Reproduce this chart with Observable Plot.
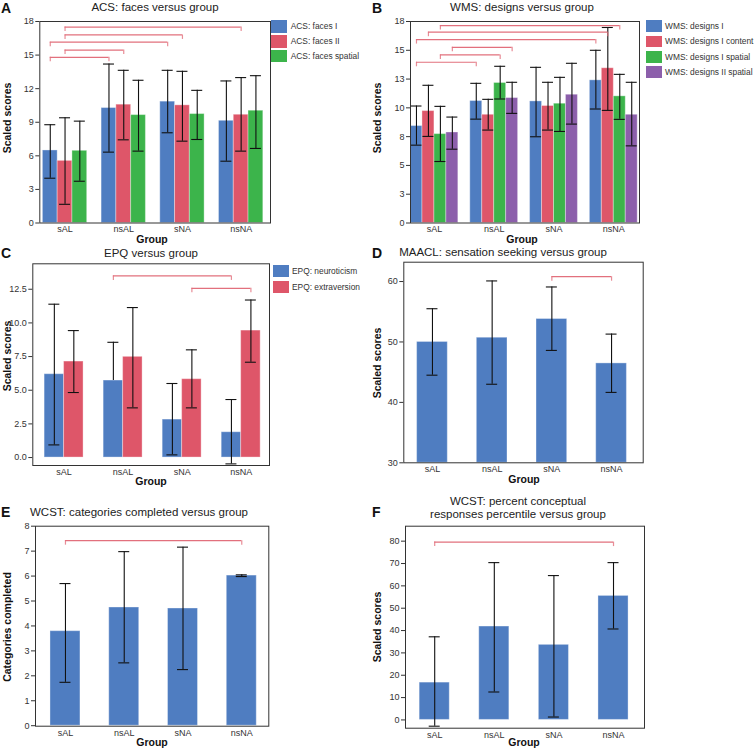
<!DOCTYPE html>
<html><head><meta charset="utf-8">
<script src="https://cdn.jsdelivr.net/npm/d3@7"></script>
<script src="https://cdn.jsdelivr.net/npm/@observablehq/plot@0.6"></script>
<style>
body{margin:0;background:#fff;}
#root{position:relative;width:754px;height:748px;font-family:"Liberation Sans",Arial,sans-serif;color:#222;overflow:hidden;}
.abs{position:absolute;white-space:nowrap;}
.panel{position:absolute;}
.letter{font-weight:bold;font-size:14px;color:#111;}
.title{font-size:11.5px;transform:translate(-50%,-50%);text-align:center;line-height:13px;color:#222;}
.ylab{font-weight:bold;font-size:10.5px;transform:translate(-50%,-50%) rotate(-90deg);color:#111;}
.xlab{font-weight:bold;font-size:10.5px;transform:translate(-50%,-50%);color:#111;}
.leg{font-size:8.4px;color:#333;transform:translateY(-50%);}
.sw{position:absolute;}
</style></head>
<body><div id="root"></div>
<script>
const groups = ["sAL", "nsAL", "sNA", "nsNA"];

// A: ACS faces
const acsSeries = ["ACS: faces I", "ACS: faces II", "ACS: faces spatial"];
const acsMean = [[6.48, 10.27, 10.84, 9.13], [5.55, 10.57, 10.51, 9.67], [6.45, 9.64, 9.73, 10.03]];
const acsLow = [[4.0, 6.33, 8.06, 5.52], [1.67, 7.43, 7.31, 6.42], [3.73, 6.42, 7.46, 6.66]];
const acsHigh = [[8.78, 14.2, 13.64, 12.69], [9.40, 13.64, 13.55, 12.99], [9.10, 12.75, 11.85, 13.16]];
const acsBrackets = [[0, 0, 1, 0, 14.8], [0, 1, 1, 1, 15.45], [0, 0, 2, 0, 16.15], [0, 1, 2, 1, 16.8], [0, 1, 3, 1, 17.5]];
const acsTicks = [0, 3, 6, 9, 12, 15, 18];

// B: WMS designs
const wmsSeries = ["WMS: designs I", "WMS: designs I content", "WMS: designs I spatial", "WMS: designs II spatial"];
const wmsMean = [[8.42, 10.59, 10.56, 12.39], [9.72, 9.40, 10.16, 13.44], [7.72, 12.16, 10.36, 11.0], [7.86, 10.85, 11.14, 9.40]];
const wmsLow = [[6.76, 9.02, 7.49, 9.9], [7.52, 8.07, 8.07, 9.78], [5.34, 10.77, 7.95, 9.0], [6.41, 9.52, 8.59, 6.70]];
const wmsHigh = [[10.16, 12.13, 13.52, 15.0], [11.96, 10.74, 12.22, 16.98], [10.13, 13.61, 12.65, 12.91], [9.2, 12.22, 13.87, 12.22]];
const wmsBrackets = [[0, 0, 1, 0, 13.96], [0, 2, 1, 2, 14.6], [0, 3, 1, 3, 15.26], [0, 0, 3, 0, 15.93], [0, 1, 3, 1, 16.57], [0, 2, 3, 2, 17.15]];
const wmsTicks = [0, 2.5, 5, 7.5, 10, 12.5, 15, 17.5];

// C: EPQ
const epqSeries = ["EPQ: neuroticism", "EPQ: extraversion"];
const epqMean = [[6.19, 5.72, 2.82, 1.88], [7.13, 7.48, 5.82, 9.43]];
const epqLow = [[0.94, 5.72, 0.2, -0.47], [4.83, 3.69, 3.69, 7.08]];
const epqHigh = [[11.39, 8.56, 5.50, 4.31], [9.43, 11.14, 8.0, 11.7]];
const epqBrackets = [[1, 0, 3, 0, 13.49], [2, 1, 3, 1, 12.57]];
const epqTicks = [0, 2.5, 5, 7.5, 10, 12.5];

// D: MAACL sensation seeking
const maaclMean = [50.0, 50.7, 53.8, 46.45];
const maaclLow = [44.5, 43.0, 48.6, 41.65];
const maaclHigh = [55.5, 60.1, 59.1, 51.3];
const maaclBrackets = [[2, 0, 3, 0, 60.8]];
const maaclTicks = [30, 40, 50, 60];

// E: WCST categories completed
const catMean = [3.79, 4.74, 4.70, 6.02];
const catLow = [1.74, 2.52, 2.25, 5.98];
const catHigh = [5.70, 6.98, 7.16, 6.05];
const catBrackets = [[0, 0, 3, 0, 7.42]];
const catTicks = [0, 1, 2, 3, 4, 5, 6, 7, 8];

// F: WCST percent conceptual responses percentile
const pctMean = [16.7, 41.8, 33.6, 55.5];
const pctLow = [-2.8, 12.5, 1.3, 40.7];
const pctHigh = [37.2, 70.4, 64.6, 70.4];
const pctBrackets = [[0, 0, 3, 0, 79.6]];
const pctTicks = [0, 10, 20, 30, 40, 50, 60, 70, 80];

const COLORS = ["#4f7dc1", "#de5669", "#3cb44b", "#8c5fab"];
const BRACKET = "#e2707d";

const root = document.getElementById("root");

function addText(cls, x, y, txt) {
  const d = document.createElement("div");
  d.className = "abs " + cls;
  d.style.left = x + "px";
  d.style.top = y + "px";
  d.innerHTML = txt;
  root.appendChild(d);
}

function addLegend(series, x, tops, h, textX) {
  series.forEach((s, k) => {
    const sw = document.createElement("div");
    sw.className = "sw";
    sw.style.left = x + "px";
    sw.style.top = tops[k] + "px";
    sw.style.width = "16px";
    sw.style.height = h + "px";
    sw.style.background = COLORS[k];
    root.appendChild(sw);
    addText("leg", textX, tops[k] + h / 2, s);
  });
}

function drawPanel(p) {
  const [L, R, T, B] = p.frame;
  const [sx, sy, sw, sh] = p.box;
  const n = p.mean.length;
  const w = p.groupWidth;
  const half = w / n / 2;
  const cx = (g, k) => g - w / 2 + (k + 0.5) * w / n;
  const cap = 5.5 * (p.xDomain[1] - p.xDomain[0]) / (R - L);
  const drop = 4.5 * (p.yDomain[1] - p.yDomain[0]) / (B - T);
  const marks = [];
  for (let k = 0; k < n; k++) {
    const rows = groups.map((g, i) => ({i, v: p.mean[k][i]}));
    marks.push(Plot.rectY(rows, {
      x1: d => cx(d.i, k) - half, x2: d => cx(d.i, k) + half,
      y1: p.base, y2: "v", fill: COLORS[k],
      stroke: "#ffffff", strokeOpacity: 0.35, strokeWidth: 1
    }));
  }
  for (let k = 0; k < n; k++) {
    const rows = groups.map((g, i) => ({i, v: p.mean[k][i], lo: p.low[k][i], hi: p.high[k][i]}));
    marks.push(Plot.ruleX(rows, {x: d => cx(d.i, k), y1: "lo", y2: "hi", stroke: "#111", strokeWidth: 1.1}));
    marks.push(Plot.ruleY(rows, {y: "hi", x1: d => cx(d.i, k) - cap, x2: d => cx(d.i, k) + cap, stroke: "#111", strokeWidth: 1.1}));
    marks.push(Plot.ruleY(rows.filter(d => d.lo < d.v), {y: "lo", x1: d => cx(d.i, k) - cap, x2: d => cx(d.i, k) + cap, stroke: "#111", strokeWidth: 1.1}));
  }
  const br = p.brackets.map(([g1, s1, g2, s2, y]) => ({a: cx(g1, s1), b: cx(g2, s2), y}));
  marks.push(Plot.ruleY(br, {y: "y", x1: "a", x2: "b", stroke: BRACKET, strokeWidth: 1.2}));
  marks.push(Plot.ruleX(br, {x: "a", y1: "y", y2: d => d.y - drop, stroke: BRACKET, strokeWidth: 1.2, strokeOpacity: 0.8}));
  marks.push(Plot.ruleX(br, {x: "b", y1: "y", y2: d => d.y - drop, stroke: BRACKET, strokeWidth: 1.2, strokeOpacity: 0.8}));
  marks.push(Plot.axisY({ticks: p.yTicks, tickFormat: p.yFormat, tickSize: 4, tickPadding: 2, label: null, fontSize: 9}));
  marks.push(Plot.axisX({ticks: [0, 1, 2, 3], tickFormat: i => groups[i], tickSize: 0, tickPadding: 3, label: null, fontSize: 9}));
  marks.push(Plot.frame({stroke: "#333", strokeWidth: 1}));

  const svg = Plot.plot({
    width: sw, height: sh,
    marginLeft: L - sx, marginRight: sx + sw - R,
    marginTop: T - sy, marginBottom: sy + sh - B,
    x: {type: "linear", domain: p.xDomain},
    y: {type: "linear", domain: p.yDomain},
    style: {fontFamily: '"Liberation Sans", Arial, sans-serif', fontSize: "9px", color: "#333", background: "transparent", overflow: "visible"},
    marks
  });
  const wrap = document.createElement("div");
  wrap.className = "panel";
  wrap.style.left = sx + "px";
  wrap.style.top = sy + "px";
  wrap.appendChild(svg);
  root.appendChild(wrap);
}

drawPanel({box: [0, 0, 275, 250], frame: [39.3, 270, 21, 222.5], xDomain: [-0.43, 3.50], yDomain: [0, 18],
  groupWidth: 0.755, base: 0, mean: acsMean, low: acsLow, high: acsHigh, brackets: acsBrackets,
  yTicks: acsTicks, yFormat: d => String(d)});
drawPanel({box: [370, 0, 280, 250], frame: [410, 639, 21, 222.5], xDomain: [-0.40, 3.43], yDomain: [0, 17.5],
  groupWidth: 0.80, base: 0, mean: wmsMean, low: wmsLow, high: wmsHigh, brackets: wmsBrackets,
  yTicks: wmsTicks, yFormat: d => String(Math.round(d))});
drawPanel({box: [0, 250, 275, 240], frame: [32.3, 269, 263.3, 465], xDomain: [-0.53, 3.48], yDomain: [-0.59, 14.39],
  groupWidth: 0.66, base: 0, mean: epqMean, low: epqLow, high: epqHigh, brackets: epqBrackets,
  yTicks: epqTicks, yFormat: d => d.toFixed(1)});
drawPanel({box: [370, 250, 280, 240], frame: [403.3, 642.7, 261.7, 462.3], xDomain: [-0.48, 3.53], yDomain: [30, 63.2],
  groupWidth: 0.514, base: 30, mean: [maaclMean], low: [maaclLow], high: [maaclHigh], brackets: maaclBrackets,
  yTicks: maaclTicks, yFormat: d => String(d)});
drawPanel({box: [0, 500, 275, 248], frame: [35, 268.3, 525.7, 725.7], xDomain: [-0.51, 3.46], yDomain: [-0.02, 8],
  groupWidth: 0.51, base: 0, mean: [catMean], low: [catLow], high: [catHigh], brackets: catBrackets,
  yTicks: catTicks, yFormat: d => String(d)});
drawPanel({box: [370, 500, 280, 248], frame: [405, 644, 525.7, 727.7], xDomain: [-0.49, 3.52], yDomain: [-3.7, 86.7],
  groupWidth: 0.505, base: 0, mean: [pctMean], low: [pctLow], high: [pctHigh], brackets: pctBrackets,
  yTicks: pctTicks, yFormat: d => String(d)});

// letters
addText("letter", 1, 0, "A");
addText("letter", 372, 0, "B");
addText("letter", 1, 245, "C");
addText("letter", 372, 245, "D");
addText("letter", 1, 504, "E");
addText("letter", 372, 504, "F");
// titles
addText("title", 155, 7, "ACS: faces versus group");
addText("title", 522, 7, "WMS: designs versus group");
addText("title", 151, 253, "EPQ versus group");
addText("title", 503, 252, "MAACL: sensation seeking versus group");
addText("title", 139, 512, "WCST: categories completed versus group");
addText("title", 518, 508, "WCST: percent conceptual<br>responses percentile versus group");
// axis labels
addText("ylab", 7, 118, "Scaled scores");
addText("ylab", 377, 118, "Scaled scores");
addText("ylab", 7, 356, "Scaled scores");
addText("ylab", 377, 363, "Scaled scores");
addText("ylab", 7, 627, "Categories completed");
addText("ylab", 377, 627, "Scaled scores");
addText("xlab", 152, 239, "Group");
addText("xlab", 522, 239, "Group");
addText("xlab", 151, 481, "Group");
addText("xlab", 524, 479, "Group");
addText("xlab", 152, 742, "Group");
addText("xlab", 524, 742, "Group");
// legends
addLegend(acsSeries, 270.7, [20, 35, 49.5], 12.5, 290.7);
addLegend(wmsSeries, 645.7, [20, 35.5, 51, 66], 11.5, 665);
addLegend(epqSeries, 273, [265, 281], 12, 292);
</script></body></html>
